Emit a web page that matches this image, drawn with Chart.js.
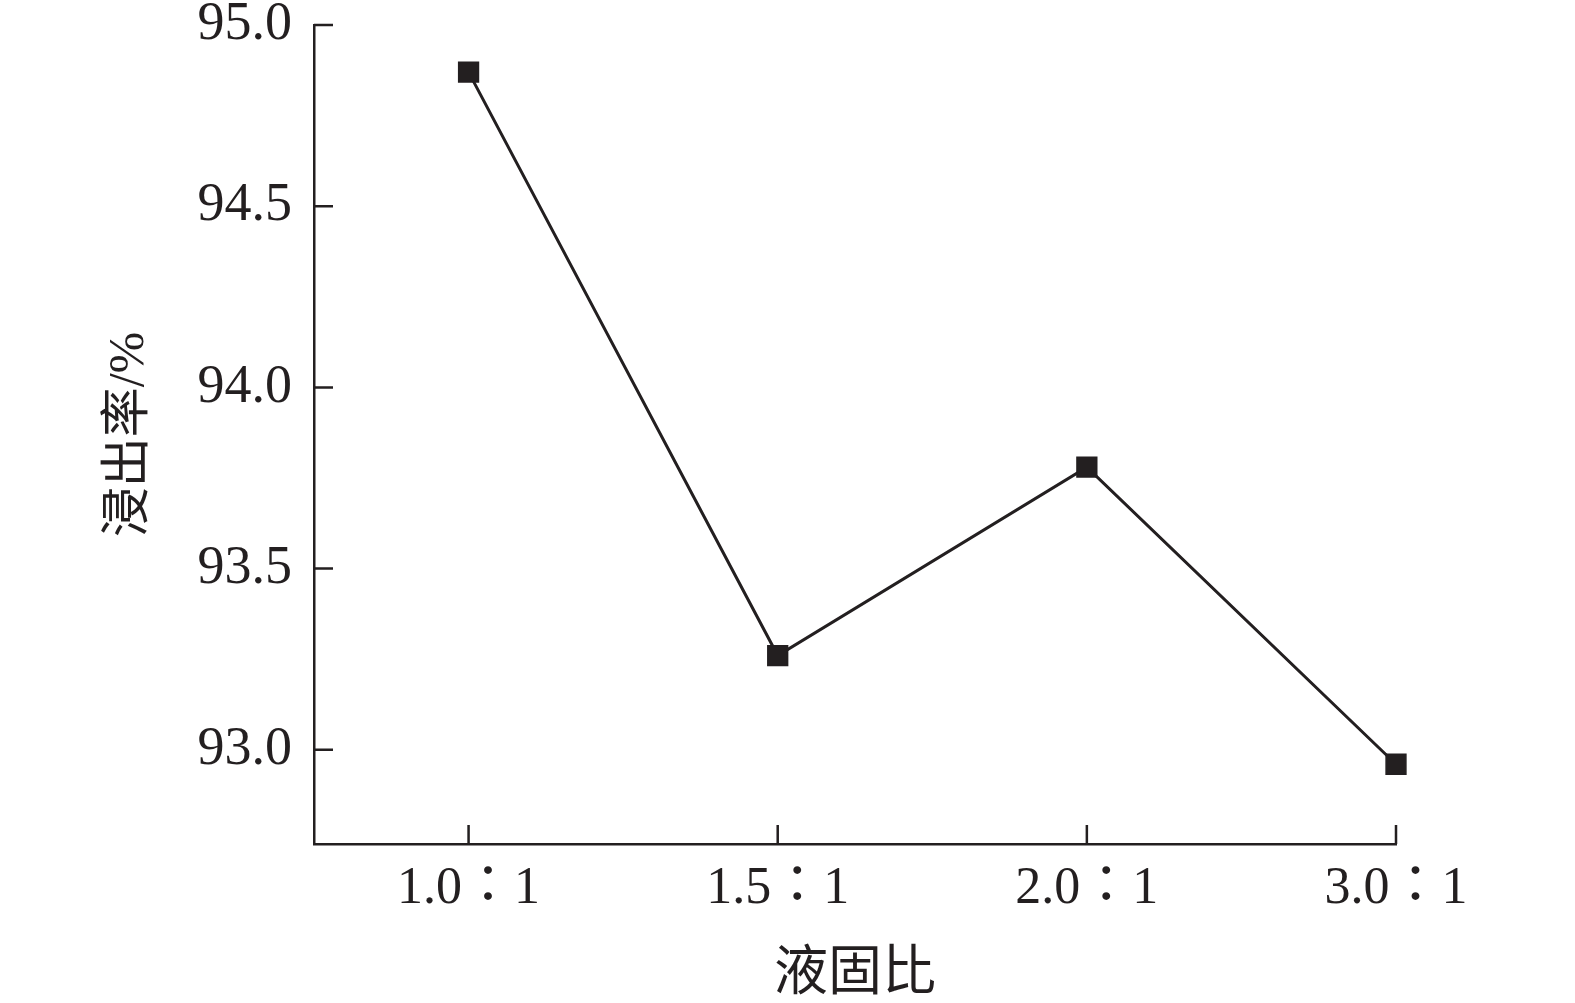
<!DOCTYPE html>
<html>
<head>
<meta charset="utf-8">
<script src="https://cdn.jsdelivr.net/npm/chart.js@4.4.1/dist/chart.umd.min.js"></script>
<style>
    html, body { margin: 0; padding: 0; background: #fff; }
    #wrap { width: 1575px; height: 1003px; }
</style>
</head>
<body>
<div id="wrap"><canvas id="leachChart"></canvas></div>
<script>
// 液固比 vs 浸出率
const ratioLabels = ['1.0：1', '1.5：1', '2.0：1', '3.0：1'];
const ratioPositions = [1, 2, 3, 4];
const leachRate = [94.87, 93.26, 93.78, 92.96];
const yTicks = [93.0, 93.5, 94.0, 94.5, 95.0];

const ink = '#231f20';
const serif = '"Liberation Serif", "Noto Sans CJK TC", serif';

// inward tick marks on both axes
const innerTicks = {
    id: 'innerTicks',
    afterDraw(chart) {
        const ctx = chart.ctx;
        const xs = chart.scales.x;
        const ys = chart.scales.y;
        ctx.save();
        ctx.strokeStyle = ink;
        ctx.lineWidth = 2.5;
        ctx.beginPath();
        ys.ticks.forEach((t, i) => {
            const py = ys.getPixelForTick(i);
            ctx.moveTo(ys.right, py);
            ctx.lineTo(ys.right + 19, py);
        });
        xs.ticks.forEach((t, i) => {
            const px = xs.getPixelForTick(i);
            ctx.moveTo(px, xs.top);
            ctx.lineTo(px, xs.top - 19);
        });
        ctx.stroke();
        ctx.restore();
    }
};

new Chart(document.getElementById('leachChart'), {
    type: 'line',
    data: {
        datasets: [{
            data: ratioPositions.map((x, i) => ({ x: x, y: leachRate[i] })),
            borderColor: ink,
            borderWidth: 3,
            backgroundColor: ink,
            pointStyle: 'rect',
            pointRadius: 14,
            pointBorderWidth: 1.5,
            pointBorderColor: ink,
            tension: 0,
            clip: false,
        }],
    },
    options: {
        responsive: true,
        maintainAspectRatio: false,
        animation: false,
        layout: {
            padding: { left: 0, right: 179, top: 25, bottom: 0 },
        },
        plugins: {
            legend: { display: false },
            tooltip: { enabled: false },
        },
        scales: {
            x: {
                type: 'linear',
                min: 0.5,
                max: 4,
                afterBuildTicks: (s) => { s.ticks = ratioPositions.map(v => ({ value: v })); },
                afterFit: (s) => { s.height = 159; s.paddingLeft = 0; s.paddingRight = 0; },
                grid: { display: false, drawTicks: false },
                border: { display: true, color: ink, width: 2.5 },
                ticks: {
                    color: ink,
                    padding: 14,
                    maxRotation: 0,
                    autoSkip: false,
                    font: { family: serif, size: 52 },
                    callback: (v) => ratioLabels[ratioPositions.indexOf(v)],
                },
                title: {
                    display: true,
                    text: '液固比',
                    color: ink,
                    font: { family: serif, size: 54, lineHeight: 1.0 },
                    padding: { top: 0, bottom: 0 },
                },
            },
            y: {
                min: 92.74,
                max: 95,
                afterBuildTicks: (s) => { s.ticks = yTicks.map(v => ({ value: v })); },
                afterFit: (s) => { s.width = 314; s.paddingTop = 0; s.paddingBottom = 0; },
                grid: { display: false, drawTicks: false },
                border: { display: true, color: ink, width: 2.5 },
                ticks: {
                    color: ink,
                    padding: 22,
                    font: { family: serif, size: 54 },
                    callback: (v) => v.toFixed(1),
                },
                title: {
                    display: true,
                    text: '浸出率/%',
                    color: ink,
                    font: { family: serif, size: 50 },
                    padding: { top: 100, bottom: 0 },
                },
            },
        },
    },
    plugins: [innerTicks],
});
</script>
</body>
</html>
